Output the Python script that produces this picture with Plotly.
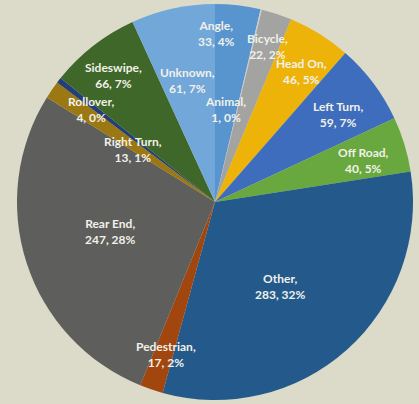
import math

import plotly.graph_objects as go

# crash types, clockwise from 12 o'clock (alphabetical as in the source chart)
categories = ["Angle", "Animal", "Bicycle", "Head On", "Left Turn", "Off Road", "Other",
              "Pedestrian", "Rear End", "Right Turn", "Rollover", "Sideswipe", "Unknown"]
counts = [33, 1, 22, 46, 59, 40, 283, 17, 247, 13, 4, 66, 61]
# percentages as printed on the chart
pct_labels = ["4%", "0%", "2%", "5%", "7%", "5%", "32%", "2%", "28%", "1%", "0%", "7%", "7%"]

colors = ["#5895cf", "#c9cdd2", "#a3a3a1", "#edb309", "#3f6dbd", "#68a83f", "#235a8b",
          "#a2460f", "#5e5e5c", "#9c7812", "#233f78", "#3f672a", "#72a7d9"]

# where each label sits: (angle shift from slice middle in degrees, radius as fraction of pie radius)
label_place = {
    "Angle": (-6.0, 0.85), "Animal": (-7.3, 0.47), "Bicycle": (0.3, 0.83),
    "Head On": (1.6, 0.79), "Left Turn": (1.6, 0.76), "Off Road": (1.4, 0.78),
    "Other": (3.9, 0.54), "Pedestrian": (-0.9, 0.81), "Rear End": (2.4, 0.55),
    "Right Turn": (-1.7, 0.49), "Rollover": (-1.1, 0.78), "Sideswipe": (-0.6, 0.82),
    "Unknown": (-0.2, 0.63),
}

fig = go.Figure(go.Pie(
    labels=categories,
    values=counts,
    sort=False,
    direction="clockwise",
    rotation=0,
    marker=dict(colors=colors, line=dict(width=0)),
    textinfo="none",
    hoverinfo="label+value+percent",
    showlegend=False,
    domain=dict(x=[0, 1], y=[0, 1]),
))

total = sum(counts)
cum = 0
annotations = []
for name, val, pct in zip(categories, counts, pct_labels):
    mid = (cum + val / 2) / total * 360
    cum += val
    shift, rf = label_place[name]
    a = math.radians(mid + shift)
    annotations.append(dict(
        x=0.5 + 0.5 * rf * math.sin(a),
        y=0.5 + 0.5 * rf * math.cos(a),
        xref="paper", yref="paper",
        xanchor="center", yanchor="middle",
        text=f"{name},<br>{val}, {pct}",
        showarrow=False,
        font=dict(family="Lato", size=12, color="#f1f1e9", weight="bold"),
        align="center",
    ))

fig.update_layout(
    width=419,
    height=404,
    margin=dict(l=17, r=6, t=4, b=4),
    paper_bgcolor="#dcdbca",
    plot_bgcolor="#dcdbca",
    annotations=annotations,
)

# drop the browser's default body margin so the figure sits at the page corner
fig.write_html("out.html", config={"displayModeBar": False},
               post_script="document.body.style.margin = '0';")
